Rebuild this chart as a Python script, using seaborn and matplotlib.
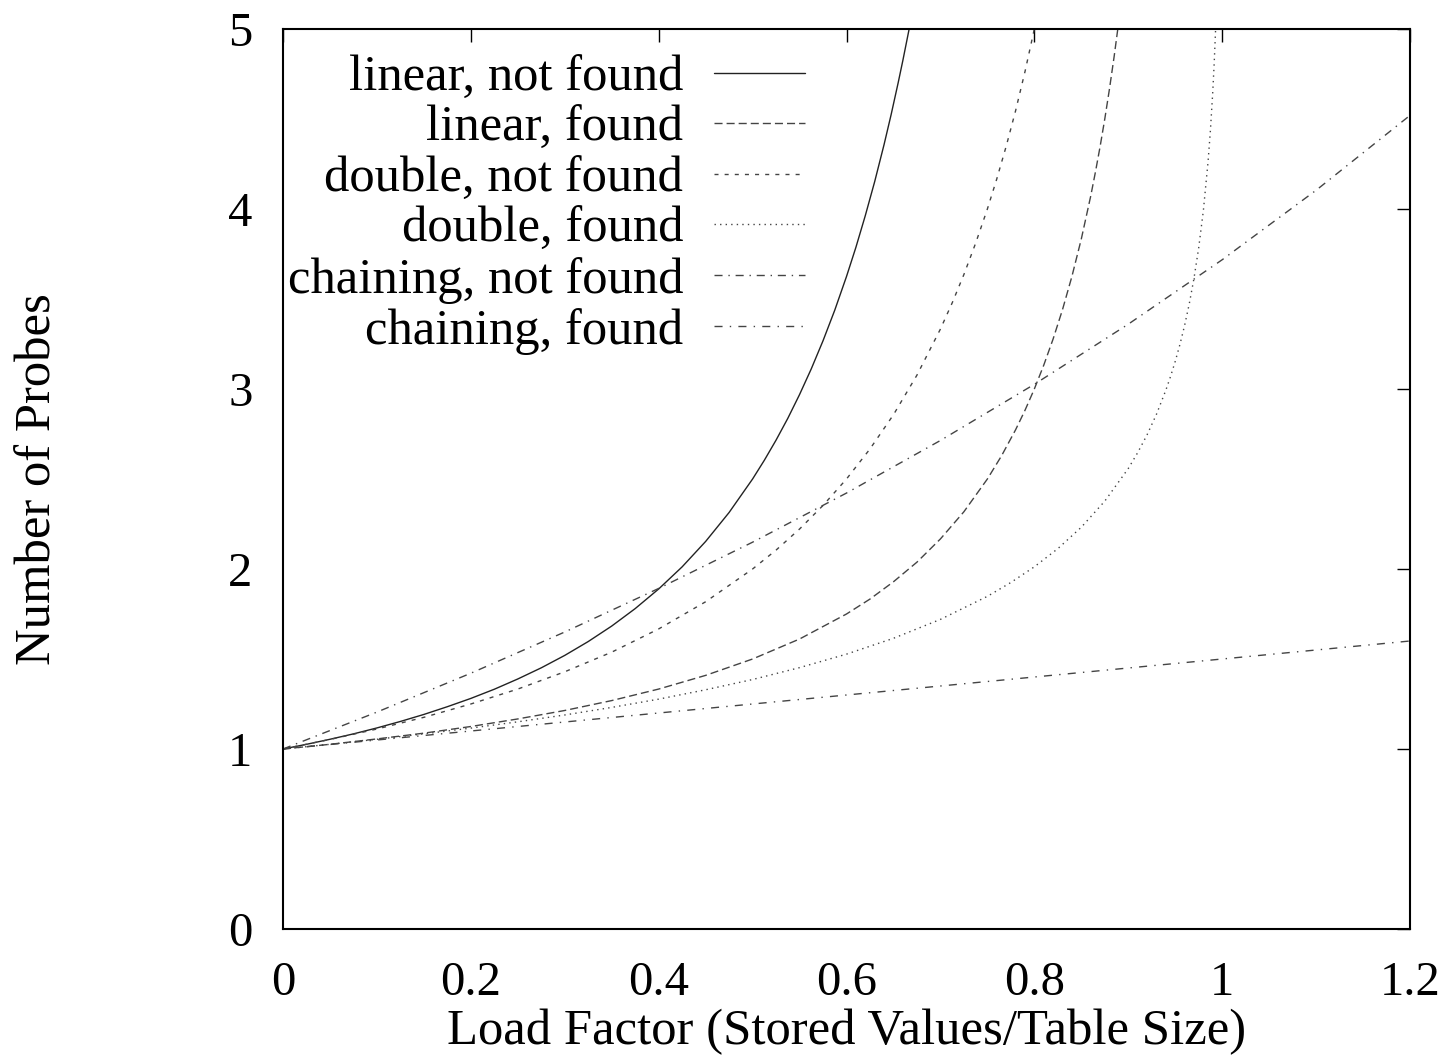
import matplotlib
matplotlib.use("Agg")
import matplotlib.pyplot as plt
import seaborn as sns
import pandas as pd

# ---- data ----
lin_nf_x = [0, 0.025, 0.05, 0.075, 0.1, 0.125, 0.15, 0.175, 0.2, 0.225, 0.25, 0.275, 0.3, 0.325,
            0.35, 0.375, 0.4, 0.425, 0.45, 0.475, 0.5, 0.5125, 0.525, 0.5375, 0.55, 0.5625,
            0.575, 0.5875, 0.6, 0.61, 0.62, 0.63, 0.64, 0.6475, 0.655, 0.66, 0.6667, 0.68]
lin_nf_y = [1.0, 1.026, 1.054, 1.084, 1.117, 1.153, 1.192, 1.235, 1.281, 1.332, 1.389, 1.451, 1.520, 1.597,
            1.683, 1.780, 1.889, 2.012, 2.153, 2.314, 2.5, 2.604, 2.716, 2.837, 2.969, 3.112,
            3.268, 3.438, 3.625, 3.787, 3.963, 4.152, 4.358, 4.524, 4.701, 4.825, 5.0, 5.383]

lin_f_x = [0, 0.05, 0.1, 0.15, 0.2, 0.25, 0.3, 0.35, 0.4, 0.45, 0.5, 0.55, 0.6, 0.625, 0.65, 0.675,
           0.7, 0.725, 0.75, 0.765, 0.78, 0.79, 0.8, 0.81, 0.82, 0.83, 0.84, 0.85, 0.86, 0.865,
           0.87, 0.875, 0.88, 0.885, 0.89, 0.9]
lin_f_y = [1.0, 1.026, 1.056, 1.088, 1.125, 1.167, 1.214, 1.269, 1.333, 1.409, 1.5, 1.611, 1.75, 1.833, 1.929, 2.038,
           2.167, 2.318, 2.5, 2.628, 2.773, 2.881, 3.0, 3.132, 3.278, 3.441, 3.625, 3.833, 4.071, 4.204,
           4.346, 4.5, 4.667, 4.848, 5.045, 5.5]

dbl_nf_x = [0, 0.05, 0.1, 0.15, 0.2, 0.25, 0.3, 0.35, 0.4, 0.45, 0.5, 0.525, 0.55, 0.575, 0.6, 0.625,
            0.65, 0.675, 0.7, 0.7125, 0.725, 0.7375, 0.75, 0.76, 0.77, 0.78, 0.79, 0.8, 0.81]
dbl_nf_y = [1.0, 1.053, 1.111, 1.176, 1.25, 1.333, 1.429, 1.538, 1.667, 1.818, 2.0, 2.105, 2.222, 2.353, 2.5, 2.667,
            2.857, 3.077, 3.333, 3.478, 3.636, 3.810, 4.0, 4.167, 4.348, 4.545, 4.762, 5.0, 5.263]

dbl_f_x = [0, 0.05, 0.1, 0.15, 0.2, 0.25, 0.3, 0.35, 0.4, 0.45, 0.5, 0.55, 0.6, 0.65, 0.7, 0.75, 0.775,
           0.8, 0.825, 0.85, 0.875, 0.9, 0.91, 0.92, 0.93, 0.94, 0.945, 0.95, 0.955, 0.96, 0.965,
           0.97, 0.975, 0.98, 0.985, 0.9875, 0.99, 0.9915, 0.993, 0.995]
dbl_f_y = [1.0, 1.026, 1.054, 1.084, 1.116, 1.151, 1.189, 1.231, 1.277, 1.329, 1.386, 1.452, 1.527, 1.615, 1.720, 1.848, 1.925,
           2.012, 2.113, 2.232, 2.377, 2.558, 2.646, 2.745, 2.859, 2.993, 3.069, 3.153, 3.247, 3.353, 3.474,
           3.615, 3.784, 3.992, 4.264, 4.438, 4.652, 4.809, 4.997, 5.325]

ch_nf_x = [0, 0.1, 0.2, 0.3, 0.4, 0.5, 0.6, 0.7, 0.8, 0.9, 1.0, 1.1, 1.2]
ch_nf_y = [1.0, 1.205, 1.421, 1.650, 1.892, 2.149, 2.422, 2.714, 3.026, 3.360, 3.718, 4.104, 4.520]

ch_f_x = [0, 0.2, 0.4, 0.6, 0.8, 1.0, 1.2]
ch_f_y = [1.0, 1.1, 1.2, 1.3, 1.4, 1.5, 1.6]

labels = ["linear, not found", "linear, found", "double, not found",
          "double, found", "chaining, not found", "chaining, found"]

x_ticks = [0, 0.2, 0.4, 0.6, 0.8, 1, 1.2]
x_tick_labels = ["0", "0.2", "0.4", "0.6", "0.8", "1", "1.2"]
y_ticks = [0, 1, 2, 3, 4, 5]

# ---- style ----
sns.set_style("white")
plt.rcParams["font.family"] = ["Liberation Serif", "DejaVu Serif"]
for k in ["text.color", "axes.labelcolor", "xtick.color", "ytick.color", "axes.edgecolor"]:
    plt.rcParams[k] = "black"

FS_TICK = 35
FS_TEXT = 36.5

fig = plt.figure(figsize=(14.47, 10.57), dpi=100)
ax = fig.add_axes([283/1447, 1 - 929/1057, (1410-283)/1447, (929-29)/1057])

series = [(lin_nf_x, lin_nf_y), (lin_f_x, lin_f_y), (dbl_nf_x, dbl_nf_y),
          (dbl_f_x, dbl_f_y), (ch_nf_x, ch_nf_y), (ch_f_x, ch_f_y)]
styles = ["-", (0, (5.8, 2.9)), (0, (2.9, 4.4)), (0, (1.0, 3.0)),
          (0, (5.8, 4.2, 1.0, 4.2)), (0, (5.8, 5.2, 1.0, 5.2))]
colors = ["#222222", "#444444", "#444444", "#444444", "#444444", "#444444"]

for (xs, ys), lab, ls, c in zip(series, labels, styles, colors):
    df = pd.DataFrame({"x": xs, "y": ys})
    sns.lineplot(data=df, x="x", y="y", ax=ax, label=lab, color=c,
                 linewidth=1.0, linestyle=ls, estimator=None, sort=False)

ax.set_xlim(0, 1.2)
ax.set_ylim(0, 5)
ax.set_xticks(x_ticks)
ax.set_xticklabels(x_tick_labels)
ax.set_yticks(y_ticks)
ax.tick_params(axis="both", which="major", direction="in", length=9.5, width=1.0,
               labelsize=FS_TICK, top=True, right=True, color="black", labelcolor="black")
ax.tick_params(axis="x", pad=23)
ax.tick_params(axis="y", pad=22)
for sp in ax.spines.values():
    sp.set_linewidth(1.5)
    sp.set_color("black")

ax.set_xlabel("Load Factor (Stored Values/Table Size)", fontsize=FS_TEXT, labelpad=3)
ax.set_ylabel("Number of Probes", fontsize=FS_TEXT, labelpad=120)

leg = ax.legend(loc="upper right", bbox_to_anchor=((805 - 283) / 1127, (929 - 55) / 900),
                frameon=False, fontsize=FS_TEXT, markerfirst=False, handlelength=1.8,
                handletextpad=0.6, labelspacing=0.08, borderaxespad=0.0, borderpad=0.0)
for t in leg.get_texts():
    t.set_ha("right")

fig.savefig("out.png", dpi=100)
